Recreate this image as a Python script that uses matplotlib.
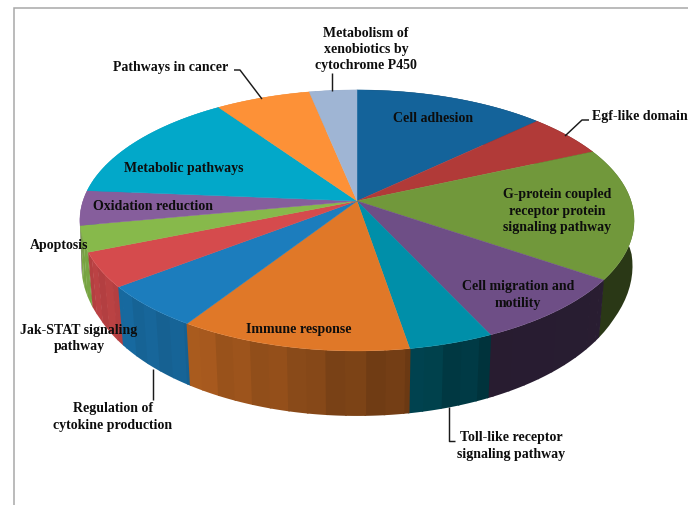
import numpy as np
import matplotlib
matplotlib.use("Agg")
import matplotlib.pyplot as plt
from matplotlib.patches import Polygon

# Pathway shares in percent, clockwise from twelve o'clock
categories = ["Cell adhesion", "Egf-like domain", "G-protein coupled receptor protein signaling pathway",
              "Cell migration and motility", "Toll-like receptor signaling pathway", "Immune response",
              "Regulation of cytokine production", "Jak-STAT signaling pathway", "Apoptosis",
              "Oxidation reduction", "Metabolic pathways", "Pathways in cancer",
              "Metabolism of xenobiotics by cytochrome P450"]
shares = [12.9, 5.4, 16.3, 8.5, 4.3, 11.75, 5.4, 4.3, 3.2, 4.3, 14.1, 6.4, 3.2]
colors = ["#14639a", "#b13a38", "#71983b", "#6e4e86", "#008fa9", "#e07828", "#1c7dbd",
          "#d54b4d", "#87b94b", "#865e9c", "#02a8c9", "#fd9137", "#9fb5d4"]

# Projection of the tilted disc onto the canvas
CX, CY = 357.0, 202.0
A, B, K = 274.0, 127.6, 0.149
WALL_SX, WALL_SY, WALL_DROP = 0.98, 1.10, 50.0
BAND_DEG = 3.5


def rim(theta):
    """Screen offsets of the top rim, theta in degrees clockwise from the back."""
    t = np.radians(theta)
    u, v = np.sin(t), np.cos(t)
    w = 1 + K * v
    return A * u / w, B * v / w


def top_xy(theta):
    x, y = rim(theta)
    return np.column_stack([CX + x, CY - y])


def base_xy(theta):
    x, y = rim(theta)
    # The lower rim keeps the full width where the wall turns out of sight
    sx = np.interp(np.abs(np.cos(np.radians(theta))), [0.0, 0.45], [1.0, WALL_SX])
    return np.column_stack([CX + sx * x, CY - (WALL_SY * y - WALL_DROP)])


def wall_shade(theta):
    """Lighting of the side wall, with soft vertical banding on the lit part."""
    base = np.interp(theta, [90, 124, 155, 170, 212, 232, 250, 280],
                     [0.37, 0.37, 0.36, 0.47, 0.76, 0.84, 0.88, 0.9])
    ripple = [0.0, 0.025, -0.015, 0.015, -0.025, 0.01][int(theta // BAND_DEG) % 6]
    if theta < 155:
        ripple = 0.0
    return np.clip(base + ripple, 0, 1)


fig = plt.figure(figsize=(6.88, 5.06), dpi=100, facecolor="white")
ax = fig.add_axes([0, 0, 1, 1])
ax.set_xlim(0, 688)
ax.set_ylim(506, 0)
ax.axis("off")

# Panel border along the top and left
ax.plot([13.5, 13.5, 688], [506, 9, 9], color="#a8a8a8", lw=1.1, zorder=1, solid_joinstyle="miter")

edges = np.concatenate([[0], np.cumsum(shares)]) / np.sum(shares) * 360

# Side wall: bands of each slice, painted from the back towards the viewer
bands = []
for start, end, col in zip(edges[:-1], edges[1:], colors):
    cuts = np.arange(np.ceil(start / BAND_DEG), np.ceil(end / BAND_DEG)) * BAND_DEG
    stops = [start] + [c for c in cuts if start < c < end] + [end]
    if end <= 155:
        stops = [start, end]
    for a0, a1 in zip(stops[:-1], stops[1:]):
        bands.append((a0, a1, col))
bands.sort(key=lambda b: -np.cos(np.radians((b[0] + b[1]) / 2)))

for a0, a1, col in bands:
    arc = np.linspace(a0 - 0.15, a1 + 0.15, 24)
    pts = np.vstack([top_xy(arc), base_xy(arc[::-1])])
    shade = tuple(np.array(matplotlib.colors.to_rgb(col)) * wall_shade((a0 + a1) / 2))
    ax.add_patch(Polygon(pts, closed=True, fc=shade, ec="none", zorder=2))

# Top face of the pie
for start, end, col in zip(edges[:-1], edges[1:], colors):
    arc = np.linspace(start, end, 80)
    pts = np.vstack([[CX, CY], top_xy(arc)])
    ax.add_patch(Polygon(pts, closed=True, fc=col, ec=col, lw=0.3, zorder=3))

# Leader lines
leaders = [([332, 332], [74, 92]),
           ([234, 240, 262], [71, 71, 100]),
           ([589, 582, 565], [121, 121, 137]),
           ([449, 449, 455], [408, 442, 442]),
           ([153, 153], [370, 401])]
for xs, ys in leaders:
    ax.plot(xs, ys, color="#1a1a1a", lw=1.05, zorder=4, solid_capstyle="butt")

# Slice labels
labels = [("Cell adhesion", 433, 118),
          ("Egf-like domain", 640, 116),
          ("G-protein coupled\nreceptor protein\nsignaling pathway", 557, 211),
          ("Cell migration and\nmotility", 518, 295),
          ("Toll-like receptor\nsignaling pathway", 511, 446),
          ("Immune response", 299, 330),
          ("Regulation of\ncytokine production", 113, 417),
          ("Jak-STAT signaling\npathway", 79, 338.5),
          ("Apoptosis", 59, 245),
          ("Oxidation reduction", 153, 206),
          ("Metabolic pathways", 184, 168),
          ("Pathways in cancer", 171, 67),
          ("Metabolism of\nxenobiotics by\ncytochrome P450", 366, 49.5)]
for text, x, y in labels:
    ax.text(x, y, text, ha="center", va="center", family="Liberation Serif", weight="bold",
            fontsize=10.0, color="#0d0d0d", linespacing=1.32, zorder=5)

fig.savefig("out.png", dpi=100)
